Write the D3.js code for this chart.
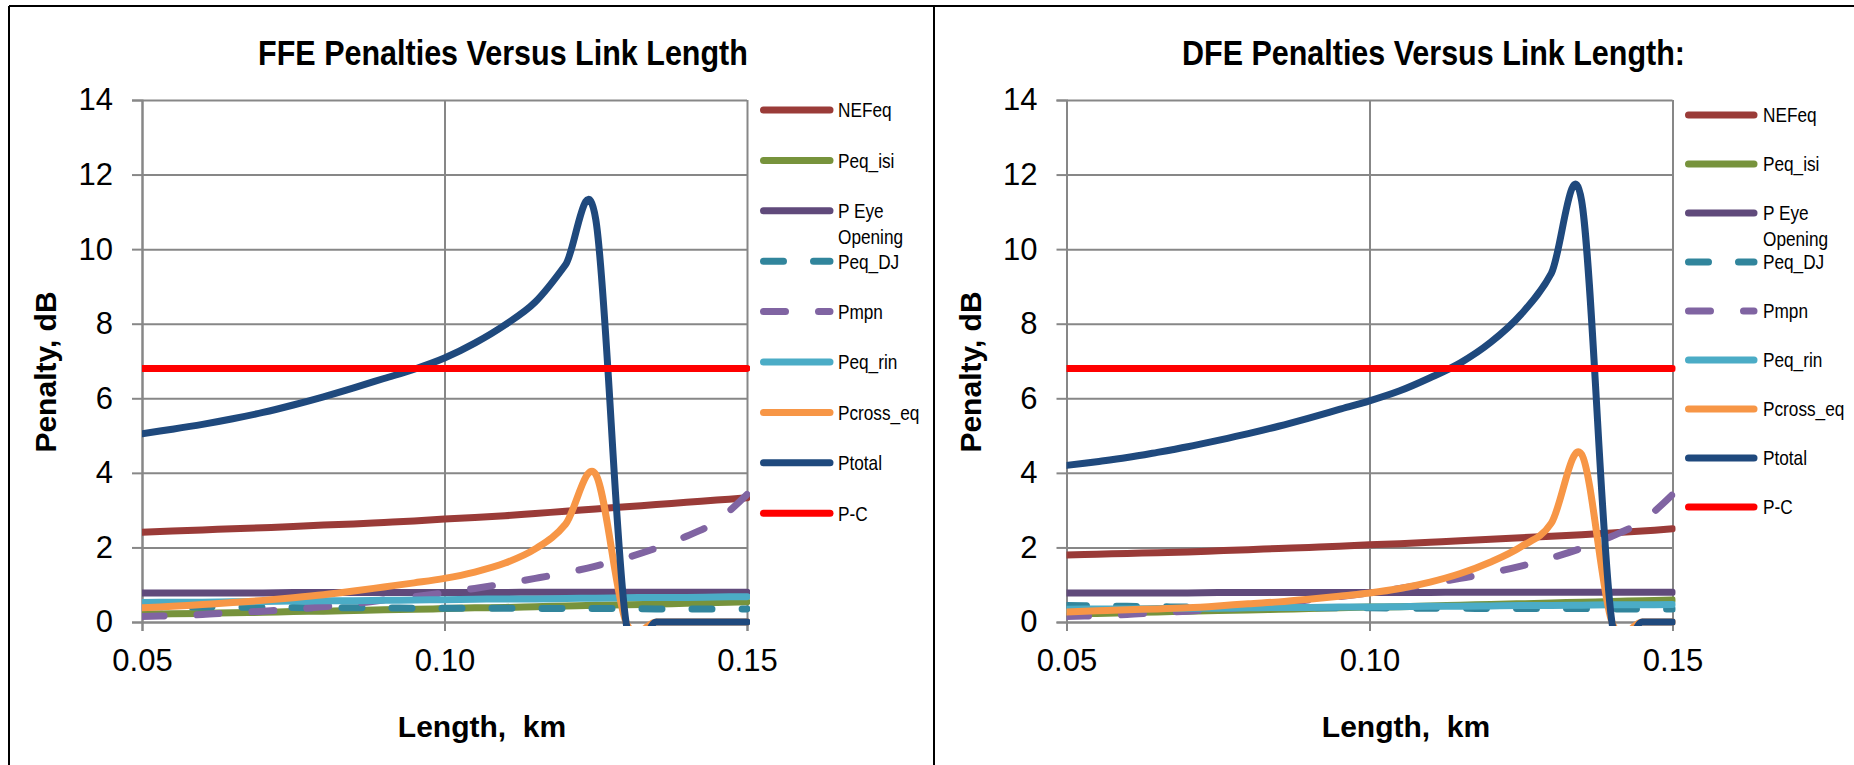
<!DOCTYPE html>
<html><head><meta charset="utf-8">
<script src="https://cdn.jsdelivr.net/npm/d3@7"></script>
<style>
html,body{margin:0;padding:0;background:#fff;}
svg{display:block;}
</style></head><body>
<svg id="chart" width="1854" height="765"></svg>
<script>
// ---------- data ----------
const lengthKm = [0.050,0.055,0.060,0.065,0.070,0.075,0.080,0.085,0.090,0.095,0.100,0.105,0.110,0.115,0.120,0.125,0.130,0.135,0.140,0.145,0.150];
const xTickValues = [0.05, 0.10, 0.15];
const xTickLabels = ["0.05", "0.10", "0.15"];
const yTickValues = [0, 2, 4, 6, 8, 10, 12, 14];
const seriesNames = ["NEFeq", "Peq_isi", "P Eye Opening", "Peq_DJ", "Pmpn", "Peq_rin", "Pcross_eq", "Ptotal", "P-C"];
const chartTitles = ["FFE Penalties Versus Link Length", "DFE Penalties Versus Link Length:"];
const xAxisTitle = "Length,  km";
const yAxisTitle = "Penalty, dB";

// FFE chart
const ffeNEFeq    = [2.41,2.44,2.47,2.50,2.53,2.56,2.60,2.63,2.67,2.71,2.76,2.80,2.85,2.91,2.97,3.03,3.09,3.15,3.21,3.27,3.33];
const ffePeqIsi   = [0.21,0.22,0.23,0.25,0.26,0.28,0.29,0.31,0.33,0.34,0.36,0.38,0.39,0.41,0.43,0.45,0.46,0.48,0.50,0.52,0.54];
const ffePEye     = [0.78,0.78,0.78,0.78,0.78,0.79,0.79,0.79,0.79,0.79,0.79,0.79,0.79,0.80,0.80,0.80,0.80,0.80,0.80,0.80,0.80];
const ffePeqDJ    = [0.41,0.41,0.40,0.40,0.39,0.39,0.38,0.38,0.38,0.37,0.37,0.37,0.37,0.36,0.36,0.36,0.36,0.35,0.35,0.35,0.35];
const ffePmpn     = [0.15,0.17,0.20,0.25,0.29,0.34,0.41,0.49,0.59,0.68,0.78,0.90,1.03,1.17,1.32,1.50,1.72,1.98,2.30,2.70,3.42];
const ffePeqRin   = [0.52,0.53,0.53,0.54,0.55,0.56,0.57,0.57,0.58,0.59,0.60,0.61,0.62,0.62,0.63,0.64,0.65,0.66,0.66,0.67,0.68];
const ffePcrossEq = [0.38,0.42,0.47,0.52,0.58,0.65,0.73,0.83,0.94,1.05,1.17,1.34,1.58,1.96,2.62,3.96,0,0,0,0,0];
const ffePtotal   = [5.05,5.17,5.30,5.45,5.62,5.82,6.04,6.28,6.53,6.78,7.08,7.48,7.97,8.58,9.58,10.80,0,0,0,0,0];
const ffePC       = [6.8,6.8,6.8,6.8,6.8,6.8,6.8,6.8,6.8,6.8,6.8,6.8,6.8,6.8,6.8,6.8,6.8,6.8,6.8,6.8,6.8];

// DFE chart
const dfeNEFeq    = [1.80,1.82,1.84,1.86,1.88,1.91,1.94,1.97,2.00,2.03,2.07,2.10,2.14,2.18,2.22,2.26,2.30,2.34,2.39,2.44,2.50];
const dfePeqIsi   = [0.22,0.23,0.25,0.27,0.29,0.31,0.32,0.34,0.36,0.38,0.40,0.41,0.43,0.45,0.47,0.49,0.51,0.53,0.55,0.57,0.59];
const dfePEye     = [0.78,0.78,0.78,0.78,0.78,0.79,0.79,0.79,0.79,0.79,0.79,0.79,0.79,0.80,0.80,0.80,0.80,0.80,0.80,0.80,0.80];
const dfePeqDJ    = [0.44,0.43,0.42,0.41,0.40,0.40,0.39,0.39,0.38,0.38,0.38,0.37,0.37,0.37,0.36,0.36,0.36,0.36,0.35,0.35,0.35];
const dfePmpn     = [0.15,0.17,0.20,0.25,0.29,0.34,0.41,0.49,0.59,0.68,0.78,0.90,1.03,1.17,1.32,1.50,1.72,1.98,2.30,2.70,3.42];
const dfePeqRin   = [0.34,0.35,0.35,0.36,0.37,0.37,0.38,0.39,0.39,0.40,0.40,0.41,0.42,0.42,0.43,0.44,0.44,0.45,0.46,0.46,0.47];
const dfePcrossEq = [0.27,0.30,0.33,0.35,0.38,0.43,0.49,0.54,0.61,0.69,0.78,0.90,1.07,1.30,1.61,2.02,2.65,4.50,0,0,0];
const dfePtotal   = [4.20,4.30,4.41,4.55,4.70,4.87,5.05,5.25,5.47,5.70,5.93,6.20,6.55,6.95,7.50,8.25,9.35,11.30,0,0,0];
const dfePC       = [6.8,6.8,6.8,6.8,6.8,6.8,6.8,6.8,6.8,6.8,6.8,6.8,6.8,6.8,6.8,6.8,6.8,6.8,6.8,6.8,6.8];

// ---------- styles ----------
const seriesColors = ["#9A3B38", "#77933C", "#604A7B", "#31859C", "#8064A2", "#4BACC6", "#F79646", "#1F497D", "#FF0000"];
const seriesDash   = [null, null, null, "20,30", "22,33", null, null, null, null];

const NARROW = "'Liberation Sans Narrow','Arial Narrow','Liberation Sans',Arial,sans-serif";
const REG = "'Liberation Sans',Arial,sans-serif";

const charts = [
  {title: chartTitles[0], series: [ffeNEFeq, ffePeqIsi, ffePEye, ffePeqDJ, ffePmpn, ffePeqRin, ffePcrossEq, ffePtotal, ffePC],
   left: 142, right: 747, titleX: 503, titleW: 490, xTitleX: 482, yTitleX: 56,
   legend: {x1: 763.5, x2: 830, tx: 838, y0: 110, dy: 50.4}, id: "c0"},
  {title: chartTitles[1], series: [dfeNEFeq, dfePeqIsi, dfePEye, dfePeqDJ, dfePmpn, dfePeqRin, dfePcrossEq, dfePtotal, dfePC],
   left: 1066.5, right: 1672.5, titleX: 1433.5, titleW: 503, xTitleX: 1406, yTitleX: 980.5,
   legend: {x1: 1688.5, x2: 1754, tx: 1763, y0: 115, dy: 49}, id: "c1"}
];
const TOP = 100, BOTTOM = 622;

const svg = d3.select("#chart");
svg.append("rect").attr("width", 1854).attr("height", 765).attr("fill", "#fff");

// detect a narrow font; otherwise squeeze horizontally
function measure(fam, w) {
  const t = svg.append("text").style("font-family", fam).style("font-size", "40px").style("font-weight", w || "normal").text("Pcross_eq NEFeq Opening");
  const l = t.node().getComputedTextLength(); t.remove(); return l;
}
const narrowRatio = measure(NARROW) / measure(REG);
const legendSqueeze = narrowRatio > 0.9 ? 0.82 : 1;
function squeeze(sel, s, ax) {
  sel.attr("transform", `translate(${ax},0) scale(${s},1) translate(${-ax},0)`);
}

// outer frames
const frame = svg.append("g").attr("stroke", "#000").attr("stroke-width", 2).attr("fill", "none");
frame.append("line").attr("x1", 9).attr("x2", 1854).attr("y1", 6).attr("y2", 6);
frame.append("line").attr("x1", 9).attr("x2", 9).attr("y1", 6).attr("y2", 765);
frame.append("line").attr("x1", 934).attr("x2", 934).attr("y1", 6).attr("y2", 765);

charts.forEach(c => {
  const x = d3.scaleLinear().domain([0.05, 0.15]).range([c.left, c.right]);
  const y = d3.scaleLinear().domain([0, 14]).range([BOTTOM, TOP]);
  const g = svg.append("g");

  // gridlines
  g.append("g").attr("transform", `translate(0,${BOTTOM})`)
    .call(d3.axisBottom(x).tickValues(xTickValues).tickSize(-(BOTTOM - TOP)).tickFormat(""))
    .call(s => s.select(".domain").remove())
    .call(s => s.selectAll("line").attr("stroke", "#878787").attr("stroke-width", 2));
  g.append("g").attr("transform", `translate(${c.left},0)`)
    .call(d3.axisLeft(y).tickValues(yTickValues).tickSize(-(c.right - c.left)).tickFormat(""))
    .call(s => s.select(".domain").remove())
    .call(s => s.selectAll("line").attr("stroke", "#878787").attr("stroke-width", 2));

  // axes with outward ticks and labels
  g.append("g").attr("transform", `translate(${c.left},0)`)
    .call(d3.axisLeft(y).tickValues(yTickValues).tickSize(10).tickPadding(19).tickFormat(d3.format("d")))
    .call(s => s.select(".domain").attr("stroke", "#878787").attr("stroke-width", 2))
    .call(s => s.selectAll("line").attr("stroke", "#878787").attr("stroke-width", 2))
    .call(s => s.selectAll("text").attr("fill", "#000").style("font-family", REG).style("font-size", "31px"));
  g.append("g").attr("transform", `translate(0,${BOTTOM})`)
    .call(d3.axisBottom(x).tickValues(xTickValues).tickSize(9).tickPadding(18).tickFormat((d, i) => xTickLabels[i]))
    .call(s => s.select(".domain").attr("stroke", "#878787").attr("stroke-width", 2))
    .call(s => s.selectAll("line").attr("stroke", "#878787").attr("stroke-width", 2))
    .call(s => s.selectAll("text").attr("fill", "#000").style("font-family", REG).style("font-size", "31px"));

  // clip
  svg.append("clipPath").attr("id", "clip-" + c.id)
    .append("rect").attr("x", c.left).attr("y", TOP - 4)
    .attr("width", c.right - c.left + 3).attr("height", BOTTOM - TOP + 8);

  const line = d3.line()
    .x((d, i) => x(lengthKm[i]))
    .y(d => y(d))
    .curve(d3.curveCardinal.tension(0));

  const lines = g.append("g").attr("clip-path", `url(#clip-${c.id})`);
  c.series.forEach((vals, k) => {
    lines.append("path")
      .attr("d", line(vals))
      .attr("fill", "none")
      .attr("stroke", seriesColors[k])
      .attr("stroke-width", 7)
      .attr("stroke-linecap", "round")
      .attr("stroke-linejoin", "round")
      .attr("stroke-dasharray", seriesDash[k]);
  });

  // chart title (fitted to the reference width)
  const tt = g.append("text").attr("x", c.titleX).attr("y", 65).attr("text-anchor", "middle")
    .style("font-family", NARROW).style("font-weight", "bold").style("font-size", "36px").text(c.title);
  const tl = tt.node().getComputedTextLength();
  squeeze(tt, c.titleW / tl, c.titleX);

  // axis titles
  g.append("text").attr("x", c.xTitleX).attr("y", 737).attr("text-anchor", "middle")
    .attr("xml:space", "preserve").style("white-space", "pre")
    .style("font-family", REG).style("font-weight", "bold").style("font-size", "30px").text(xAxisTitle);
  g.append("text").attr("transform", `translate(${c.yTitleX},372) rotate(-90)`).attr("text-anchor", "middle")
    .style("font-family", REG).style("font-weight", "bold").style("font-size", "30px").text(yAxisTitle);

  // legend
  const L = c.legend;
  seriesNames.forEach((name, k) => {
    const ly = L.y0 + k * L.dy;
    g.append("line").attr("x1", L.x1).attr("x2", L.x2).attr("y1", ly).attr("y2", ly)
      .attr("stroke", seriesColors[k]).attr("stroke-width", 7).attr("stroke-linecap", "round")
      .attr("stroke-dasharray", seriesDash[k]);
    const t = g.append("text").attr("x", L.tx).attr("y", ly + 7.5)
      .style("font-family", NARROW).style("font-size", "21px").attr("fill", "#000");
    if (name === "P Eye Opening") {
      t.append("tspan").attr("x", L.tx).text("P Eye");
      t.append("tspan").attr("x", L.tx).attr("dy", 26).text("Opening");
    } else {
      t.text(name);
    }
    squeeze(t, legendSqueeze, L.tx);
  });
});
</script>
</body></html>
